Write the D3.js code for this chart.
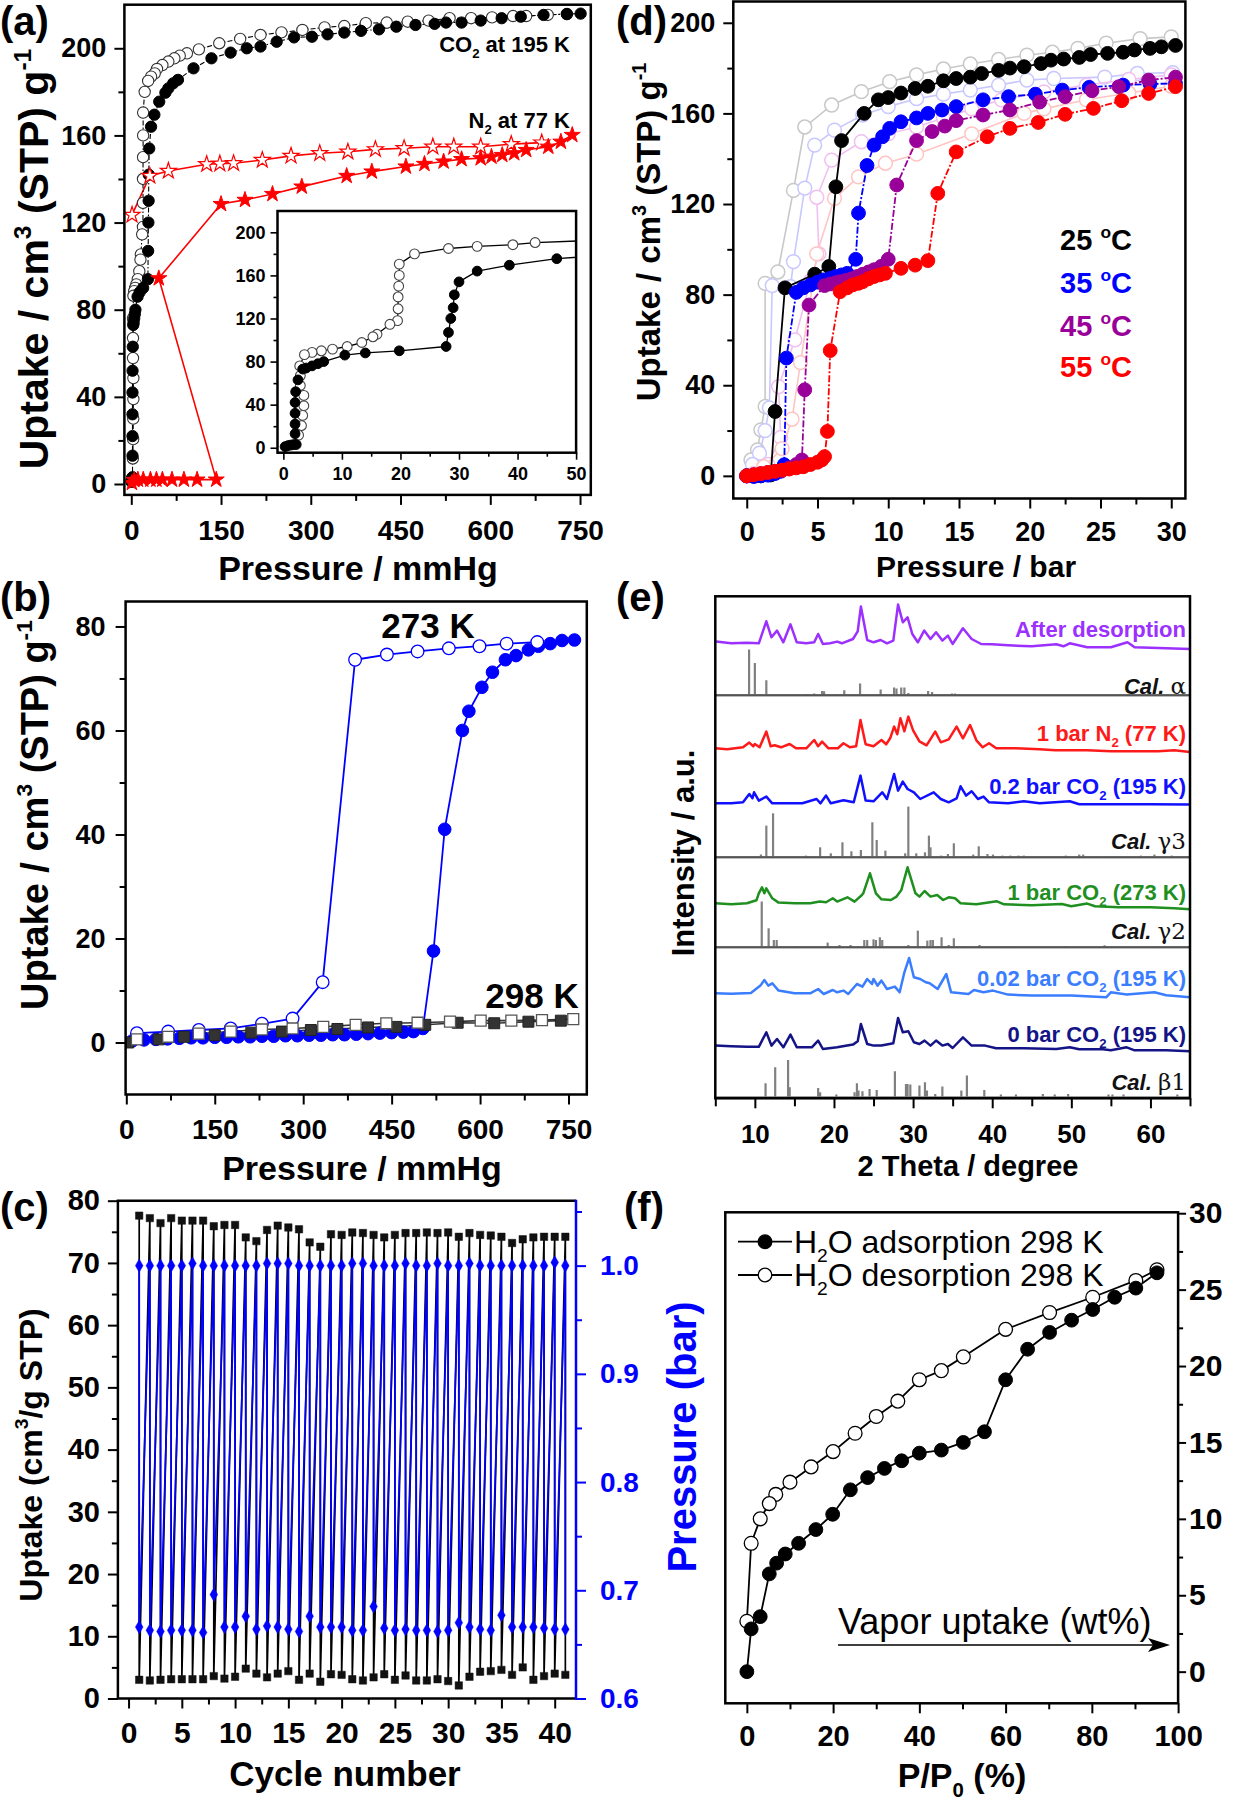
<!DOCTYPE html>
<html><head><meta charset="utf-8">
<script src="https://cdn.jsdelivr.net/npm/d3@7"></script>
<style>
body{margin:0;background:#fff;}
</style></head><body>
<svg id="fig" width="1238" height="1800" style="display:block;background:#fff"></svg>
<script>
// ---------------- DATA ----------------
// (a) CO2 at 195 K (same data in inset)
const aCO2Ads = [[0.3,1],[0.8,2],[1.3,2.5],[1.8,3],[2.2,3],[2.0,13],[2.0,22],[2.0,32],[2.0,42],[2.1,52],[2.5,63],[3.3,73],[3.9,74],[4.9,76],[5.9,78],[6.9,80],[10.5,86],[14,88],[19.8,90],[27.8,94],[28.2,107],[28.6,120],[29,130],[29.2,142],[30,154],[33.1,164],[38.6,169.5],[46.7,175.5],[57,179.6],[62,181.6],[70,183.9],[78,185.5],[104,190.8],[134,195.4],[166,198],[193,200],[216,200.8],[243,203],[272,205],[302,205.3],[328,206.4],[356,207.2],[384,208],[414,208.7],[443,209.9],[475,210.7],[507,211.2],[526,211.8],[552,211.8],[584,212.7],[619,213.8],[651,214.5],[689,215.3],[728,215.7],[751,215.9]];
const aCO2Des = [[728,215.7],[696,215.3],[660,214.8],[638,214.8],[603,214.2],[568,213.8],[532,213.8],[497,212.7],[462,212.2],[427,211.8],[392,211.5],[356,210.2],[323,209.6],[286,208.4],[251,207.3],[216,206.1],[182,204.3],[147,202.3],[113,199.5],[93,197.7],[81,196.6],[72,195.4],[62,193.9],[52,192.3],[43,190.5],[39.2,188.5],[33.1,187],[28.2,185],[22.4,180],[19.8,170.5],[19.8,160],[19.7,150],[19.6,140],[19.6,129],[19.5,118],[18.2,114.6],[16,105.4],[15.3,103],[13.4,97.7],[10.9,94],[8.4,91.6],[6.5,90],[4.9,88.5],[3.6,86.4],[2.8,76],[2.9,67],[2.9,57.8],[3.5,48.6],[3.5,39],[3.3,30],[3.1,20.6],[2.6,11.7]];
// (a) N2 at 77 K
const aN2Ads = [[1,0.5],[5,1.8],[11,2],[20,2],[32,2],[42,2],[52,2],[68,2],[88,2],[110,2],[142,2],[46,94.4],[150,128.5],[190,130.4],[236,133.1],[285,136.5],[360,141.4],[402,143.4],[459,145.7],[490,146.9],[522,148],[552,149.1],[584,149.5],[602,150.2],[620,151],[640,151.8],[660,153.3],[697,154.8],[718,157.1],[737,160.2]];
const aN2Des = [[686,156.7],[635,156],[584,154.8],[539,154.8],[504,154.8],[456,154.1],[408,153.6],[362,152.5],[315,151.8],[267,150.6],[219,148.7],[171,147.2],[148,147],[126,146.8],[62,143.7],[31,141.4],[1.3,123.5]];
const aXTicks = [0,150,300,450,600,750];
const aXMinor = [75,225,375,525,675];
const aYTicks = [0,40,80,120,160,200];
const aYMinor = [20,60,100,140,180];
const aInXTicks = [0,10,20,30,40,50];
const aInXMinor = [5,15,25,35,45];
const aInYTicks = [0,40,80,120,160,200];
const aInYMinor = [20,60,100,140,180];

// (b) CO2 at 273 K and 298 K
const b273Ads = [[10,0.3],[30,0.5],[50,0.6],[70,0.7],[90,0.8],[110,0.9],[130,0.9],[150,1.0],[170,1.0],[190,1.1],[210,1.1],[230,1.2],[250,1.2],[270,1.3],[290,1.3],[310,1.4],[330,1.4],[350,1.5],[370,1.5],[390,1.6],[410,1.7],[430,1.8],[450,1.9],[470,2.0],[487,2.1],[503,2.7],[521,17.6],[540,41],[570,60],[581,63.7],[603,68.3],[621,71.2],[643,73.6],[661,74.4],[682,75.5],[699,76.2],[719,76.7],[739,77.3],[760,77.4]];
const b273Des = [[697,77],[645,76.7],[599,76.2],[547,75.8],[494,75.2],[442,74.6],[388,73.6],[333,11.6],[282,4.6],[230,3.6],[177,2.7],[123,2.4],[71,2.1],[18,1.8]];
const b298Ads = [[3,0],[55,0.6],[98,1.1],[150,1.4],[212,1.9],[264,2.1],[313,2.4],[358,2.6],[410,2.9],[458,3.0],[507,3.4],[562,3.8],[624,3.7],[682,4.0],[737,4.2]];
const b298Des = [[758,4.5],[705,4.3],[653,4.2],[601,4.2],[549,4.0],[494,3.8],[441,3.7],[389,3.4],[334,3.0],[282,2.7],[230,2.5],[177,2.1],[123,1.7],[71,1.1],[18,0.6]];
const bXTicks = [0,150,300,450,600,750];
const bXMinor = [75,225,375,525,675];
const bYTicks = [0,20,40,60,80];
const bYMinor = [10,30,50,70];

// (c) cycling
const cCycles = [1,2,3,4,5,6,7,8,9,10,11,12,13,14,15,16,17,18,19,20,21,22,23,24,25,26,27,28,29,30,31,32,33,34,35,36,37,38,39,40,41];
const cUptakeHigh = [77.6,77.2,76.4,77.2,76.8,76.8,76.8,75.9,76.1,76.1,74.1,73.5,75.3,76.0,75.7,75.4,73.3,72.6,74.6,74.5,74.9,74.8,74.5,74.1,74.5,74.8,74.8,74.9,74.8,74.9,74.2,74.8,74.5,74.4,74.2,73.2,73.8,74.1,74.2,74.2,74.2];
const cUptakeLow = [3.0,2.9,3.0,3.1,3.1,3.1,3.1,3.6,3.2,3.5,4.8,4.0,3.4,4.0,4.4,3.0,4.0,2.7,3.9,3.8,3.1,2.9,3.4,3.9,3.0,3.7,2.9,2.9,3.1,2.8,2.1,3.5,4.3,4.4,4.6,3.8,5.0,3.0,3.6,4.0,3.8];
const cPressHigh = [1.0,1.0,1.0,1.0,1.0,1.002,1.0,1.0,1.0,1.0,1.0,1.0,1.002,1.002,1.002,1.0,1.0,1.0,1.0,1.0,1.002,1.002,1.0,1.0,1.0,1.002,1.0,1.0,1.002,1.0,1.0,1.002,1.0,1.0,1.0,1.0,1.0,1.0,1.0,1.003,1.0];
const cPressLow = [0.666,0.663,0.662,0.663,0.663,0.663,0.661,0.696,0.666,0.666,0.676,0.664,0.667,0.666,0.664,0.662,0.676,0.666,0.666,0.666,0.663,0.663,0.685,0.665,0.663,0.664,0.663,0.663,0.662,0.663,0.670,0.666,0.664,0.663,0.677,0.666,0.666,0.666,0.665,0.664,0.664];
const cXTicks = [0,5,10,15,20,25,30,35,40];
const cXMinor = [2.5,7.5,12.5,17.5,22.5,27.5,32.5,37.5];
const cYTicks = [0,10,20,30,40,50,60,70,80];
const cYMinor = [5,15,25,35,45,55,65,75];
const cPTicks = [0.6,0.7,0.8,0.9,1.0];
const cPMinor = [0.65,0.75,0.85,0.95,1.05];

// (d) high-pressure CO2 isotherms (ads filled / des open)
const d25Ads = [[0,0],[0.5,0],[1.0,0],[1.7,0.4],[2.0,28.4],[2.7,83],[4.8,89],[5.8,92.4],[6.3,127.6],[6.7,148],[8.3,160],[9.3,166],[10.0,167],[10.9,169],[11.9,171],[12.8,172],[13.9,174.4],[14.8,175.4],[15.8,176],[16.6,177.6],[17.8,179],[18.6,180],[19.6,180.6],[20.8,182],[21.5,183.5],[22.4,184],[23.5,184.7],[24.3,186],[25.5,186.5],[26.6,187],[27.4,188],[28.5,188.7],[29.3,189.4],[30.3,190]];
const d25Des = [[30,193.8],[27.8,193],[25.4,191],[23.4,188.7],[21.6,187],[19.8,185.7],[17.8,183.8],[15.8,181.8],[13.9,179.6],[12.0,177],[10.1,174],[8.1,169.6],[6.0,163.7],[4.1,154],[3.3,126],[2.2,90],[1.3,85],[1.3,30.6],[1.0,20.3],[0.76,11.5],[0.3,7],[0,0]];
const d35Ads = [[0,0],[0.5,-0.3],[1.0,0],[1.5,0.3],[2.0,1],[2.4,2],[2.65,4.9],[2.8,52],[3.5,81],[4.0,83],[4.5,84.3],[5.0,85.5],[5.4,86.5],[5.9,87.3],[6.3,88],[6.7,88.7],[7.1,89.4],[7.7,95.6],[7.9,116],[8.5,137],[9.0,146],[9.6,149.7],[10.1,153.4],[10.9,156.3],[12.0,158],[12.8,160],[13.8,161.5],[14.8,163],[16.7,166],[18.5,167.4],[20.4,168.5],[22.3,170.3],[24.2,171.5],[26.6,172.5],[28.5,173],[30.3,173.2]];
const d35Des = [[30.1,178],[27.6,177.6],[25.3,176],[21.7,175.4],[19.8,174.7],[17.8,172.5],[15.8,170.3],[13.9,168.5],[12.0,166.5],[10.0,163],[8.2,159.3],[6.2,152.6],[4.8,146],[4.1,127],[3.3,94.6],[3.1,83.5],[1.8,84],[1.6,30],[1.3,20],[0.9,10],[0.4,5],[0,0]];
const d45Ads = [[0,0],[0.5,0.5],[1,1],[1.5,1.5],[2,2],[2.5,2.5],[3,3.5],[3.5,5],[3.9,7],[4.1,38],[4.4,75.4],[5.5,84],[5.9,84.7],[6.3,85.3],[6.6,85.7],[7.0,86.3],[7.4,87],[7.8,88],[8.2,89],[8.6,90],[9.0,91],[9.5,92.5],[10.0,95.6],[10.6,128.4],[12.0,148],[13.1,152],[14.0,154.4],[14.8,156.8],[16.7,159.3],[18.6,161.5],[20.7,165],[22.5,167.4],[24.4,170],[26.3,171.8],[28.4,174.7],[30.3,176]];
const d45Des = [[30,177],[27,175],[24,172.5],[21,169.5],[18,166],[15.9,162],[13.9,158],[12.0,154],[10,151],[8.1,147.5],[6.0,139.4],[4.95,123],[5.1,98],[4.5,86],[3.4,60],[2.25,39.4],[2.4,17],[1.5,5],[0.5,1],[0,0]];
const d55Ads = [[0,0],[0.5,0.5],[1,1],[1.5,1.5],[2,2],[2.5,2.5],[3,3],[3.5,3.5],[4,4],[4.5,5],[5,6],[5.3,7],[5.5,8.5],[5.7,19.6],[5.9,55.3],[6.6,81.3],[7.1,83],[7.5,84.3],[7.9,85],[8.2,85.7],[8.6,87],[9.0,88],[9.4,88.7],[9.8,89.4],[10.9,91.6],[11.9,93],[12.8,95],[13.5,124.7],[14.8,143],[17.0,149.7],[18.6,153.4],[20.6,156],[22.5,159.6],[24.5,162.2],[26.5,165.6],[28.4,168.8],[30.3,171.8]];
const d55Des = [[30,172],[27,169],[24,166],[21,162],[19.6,160],[15.9,151],[12.0,142],[9.8,138],[7.9,132],[6.2,122.5],[4.95,98],[4.7,86],[3.8,50],[3.2,25],[2.5,12],[1.2,4],[0,0]];
const dXTicks = [0,5,10,15,20,25,30];
const dXMinor = [2.5,7.5,12.5,17.5,22.5,27.5];
const dYTicks = [0,40,80,120,160,200];
const dYMinor = [20,60,100,140,180];
const dLegend = ["25","35","45","55"];

// (e) PXRD: experimental traces [2theta, intensity above own baseline]
const eAfterDes = [[5.1,1.7],[7,0],[9,0.5],[10.5,0],[11.45,22],[12.1,6],[12.8,12.7],[13.6,1],[14.5,19],[15.3,1],[16.5,0],[17.5,1],[18.0,9.3],[18.6,-0.7],[19.5,0],[20.4,1.7],[21,0],[22.4,4.3],[23.0,12],[23.4,36.7],[24.2,3.3],[25.0,1],[25.9,3.3],[26.7,0],[27.5,2.7],[28.1,38.7],[28.7,21],[29.3,26],[29.9,9.3],[30.6,1],[31.4,12.7],[32.2,4.3],[32.9,11],[33.7,2.7],[34.4,7.7],[35.0,-0.7],[36.3,15],[37.4,4.3],[38.6,-0.7],[40,-1],[42,-2],[45,-3],[48.1,-1],[49,-3],[49.8,0],[52,-4],[55,-4],[57.1,1],[58,-4],[62,-5],[65,-5.7]];
const eN2_77 = [[5,0],[6.5,-1],[8.5,1],[9.3,5.7],[9.8,2],[10.0,4.3],[10.6,1],[11.45,16.7],[12.0,2],[12.5,3],[13.3,1],[14.4,4.3],[15.2,0],[16.5,0],[17.5,8.3],[18.0,2],[18.5,6.7],[19.3,0],[20.5,0],[21.2,5],[22,1],[22.8,2],[23.35,28.3],[24.0,4],[25.0,2],[26.0,8.3],[26.6,4],[27.1,10],[27.6,21.7],[28.0,14],[28.4,30],[28.9,17],[29.4,31.7],[30.0,18],[30.8,7],[31.7,3],[32.8,16.7],[33.5,6],[34.5,9],[35.5,21.7],[36.3,10],[37.2,23.3],[38.0,8],[38.8,1],[39.6,5],[40.5,0],[43,0],[46,-1],[48,-2],[52,-2],[55,-3],[58,-3],[61,-3],[63,-2],[65,-3.7]];
const eCO2_02 = [[5,0],[7,0],[8.5,1],[9.3,9.3],[9.7,5],[9.9,11],[10.5,2.7],[11.45,6.7],[12.2,0],[14,0],[16,0],[17.8,4.3],[18.3,0],[19.0,7.7],[19.6,0],[21.2,3],[22.5,1],[23.35,27.7],[24.0,2.7],[25.0,2],[26.1,11],[26.7,4.3],[27.6,29.3],[28.1,12.7],[28.7,21.7],[29.3,14.3],[30.1,11],[30.9,4.3],[32.6,11],[33.5,4.3],[34.5,1],[35.5,5],[36.0,17],[36.7,7.7],[37.4,12],[38.2,4.3],[38.9,6.7],[39.6,1],[42,0],[44,2],[46,0],[49.8,2],[51,-1],[55,-1],[60,-1],[65,-1.3]];
const eCO2_273 = [[5,0],[7,-1],[9,0],[10.2,3],[10.5,10],[10.9,16],[11.2,10],[11.45,15],[12.2,5],[13,0.7],[15,0],[17,0],[18.2,1.7],[19.0,1],[19.85,5],[20.4,1.7],[21.7,6],[22.6,1.7],[23.5,8],[23.7,10],[24.55,30],[25.3,10],[26,4],[27.2,3.3],[27.9,6.7],[28.5,13],[29.3,36],[30.3,10],[30.8,6.7],[31.45,12.3],[32.2,6.7],[33.05,8.3],[33.8,3.3],[34.5,6],[35.3,5],[36,0],[38,-1],[40.6,2],[41.5,-1],[45,-2],[48.8,-0.7],[50,-3],[52,-0.3],[53,-3],[56,-4],[60,-4],[63,-5],[65,-6]];
const eCO2_002 = [[5,0],[7,-0.5],[9.5,0.3],[10.7,7.7],[11.2,13.3],[11.7,7.7],[12.2,10],[13,2.7],[15,0],[17,0],[18.0,4.3],[18.7,-0.7],[19.85,3.3],[20.4,1],[21.2,2.7],[21.8,-0.7],[22.9,9.3],[23.6,6.7],[24.2,14.3],[24.8,9.3],[25.0,14.3],[25.5,7.7],[26.0,12.7],[26.7,4.3],[27.7,6.7],[28.3,1],[28.9,21],[29.5,35.3],[30.1,16],[30.9,14.3],[31.6,11],[32.1,10],[33.1,4.3],[34.2,19.3],[34.8,1],[37,-0.7],[37.7,3.3],[38.9,1],[40.1,2.7],[42,-1.3],[45,-2.3],[50,-2.3],[54.4,-4],[55,1],[57,-1.3],[60.5,1],[62,-2],[65,-4]];
const eCO2_0 = [[5,1.7],[7,1],[9,0.5],[10.5,0.5],[11.45,15],[12.1,1.7],[12.8,8.3],[13.6,0],[14.5,12.7],[15.3,0],[17.2,0],[18.0,6.7],[18.6,-1.7],[20.4,0],[22.4,2.7],[23.0,6],[23.4,23.3],[24.2,3.3],[25.0,1.7],[26.0,1.7],[27.5,4],[28.1,29.3],[28.7,15],[29.4,16],[30.1,5],[30.8,3.3],[31.45,6.7],[32.2,1.7],[32.9,6.7],[33.7,1.7],[34.4,3.3],[35.0,-0.7],[36.3,10],[37.4,1.7],[39.1,1.7],[40.5,-1],[44,-1],[48.1,-1.7],[49.8,0],[51,-2],[54,-2],[55,-3],[57,0],[58,-3],[62,-3],[65,-4]];
// (e) calculated stick patterns [2theta, height]
const eCalAlpha = [[9.27,45.7],[10.0,32.3],[11.45,15],[16.6,1],[17.5,1.7],[18.5,4.3],[18.75,4],[20.2,1],[21.3,5],[23.3,11.7],[25.9,5.7],[27.6,7.7],[27.9,6.7],[28.5,7.7],[28.9,7.7],[29.4,2.3],[30.1,1],[30.6,1],[31.9,4.3],[32.4,3.3],[34.9,1.7],[35.3,1.7],[36.0,1],[37.4,0.7],[39.4,0.7],[44.5,0.7],[49.6,0.7],[56.6,0.7]];
const eCalG3 = [[10.77,2.7],[11.45,31.7],[12.3,44],[16.45,1.7],[18.25,10],[19.6,4],[21.07,15],[22.2,6],[23.4,7.3],[24.85,35],[25.4,17.3],[26.5,6.7],[29.0,4],[29.4,50.7],[30.4,4],[31.5,5],[32.0,21.7],[32.2,10],[33.55,1.7],[34.4,3.3],[35.15,14],[37.6,2.7],[38.3,11],[39.4,3.3],[40.1,2.7],[41.3,1.7],[42.3,1.7],[43.3,1.7],[44.0,1.7],[49.3,1.7],[51.0,2.7],[51.5,2.7],[53.4,1],[58.8,1.7],[60.5,2.7],[62.7,1.7]];
const eCalG2 = [[10.87,45.7],[11.74,19],[12.4,7.3],[12.76,7.3],[15.1,1.3],[19.2,4.7],[20.7,2.3],[22.1,2.3],[23.83,7.3],[24.2,7.3],[25.0,8],[25.3,7.3],[25.8,10],[26.1,7.3],[29.4,2.3],[30.6,16.7],[31.8,6.7],[32.2,7.3],[32.5,7.3],[33.6,10],[34.5,2.3],[35.15,9],[36.5,1.3],[38.4,2.3],[42.0,1.3],[49.3,1.3],[54.2,2],[60.9,1.3]];
const eCalB1 = [[11.35,14],[12.57,30],[14.2,37.3],[14.4,10],[18.0,9.3],[18.25,5],[20.3,2.7],[22.6,5],[22.9,14],[23.1,6.7],[23.6,6],[24.5,8.3],[25.4,7.3],[27.7,26],[29.1,13.3],[29.3,13.3],[29.65,12.7],[30.8,11.7],[31.5,15],[31.75,6.7],[32.8,3.3],[33.7,10.7],[36.1,6.7],[36.8,21.7],[39.0,7.3],[41.1,2.7],[43.0,2.7],[46.4,3.3],[47.9,2.7],[49.6,3.3],[54.7,2.7],[55.2,2.7],[56.6,2.7],[63.4,2.7]];
// stacking offsets (a.u.) of each pattern, top to bottom
const eOffsets = [455,403,350,295,241,195,151,105,51,1];
const eXTicks = [10,20,30,40,50,60];
const eXMinor = [5,15,25,35,45,55,65];

// (f) water vapour isotherm at 298 K
const fAds = [[0,0],[1,2.8],[3.1,3.6],[5.2,6.4],[6.9,7.1],[8.9,7.7],[12,8.4],[16,9.3],[19.9,10.3],[24,11.9],[28,12.7],[31.9,13.3],[35.9,13.8],[40,14.3],[45.1,14.5],[50.2,15.0],[55.1,15.7],[60,19.1],[65.1,21.1],[70.2,22.2],[75.3,23.0],[80.2,23.7],[85.3,24.5],[90.2,25.1],[95.1,26.1]];
const fDes = [[95.1,26.3],[90.2,25.6],[80.2,24.5],[70.2,23.5],[60,22.4],[50.2,20.6],[45.1,19.7],[40,19.1],[35,17.7],[30,16.7],[25.1,15.6],[20,14.4],[14.9,13.4],[10,12.4],[6.7,11.6],[5.2,11.0],[3.1,10.0],[1.0,8.4],[0,3.3]];
const fXTicks = [0,20,40,60,80,100];
const fXMinor = [10,30,50,70,90];
const fYTicks = [0,5,10,15,20,25,30];
const fYMinor = [2.5,7.5,12.5,17.5,22.5,27.5];

// ---------------- DRAWING ----------------
const FONT = '"Liberation Sans", Arial, Helvetica, sans-serif';
const svg = d3.select('#fig');
const defs = svg.append('defs');
let clipN = 0;
function clipRect(x0,y0,x1,y1){
  const id='clip'+(clipN++);
  defs.append('clipPath').attr('id',id).append('rect').attr('x',x0).attr('y',y0).attr('width',x1-x0).attr('height',y1-y0);
  return 'url(#'+id+')';
}
function frame(x0,y0,x1,y1,fill){
  svg.append('rect').attr('x',x0).attr('y',y0).attr('width',x1-x0).attr('height',y1-y0)
    .attr('fill',fill||'none').attr('stroke','#000').attr('stroke-width',2.5);
}
function axis(scale, side, pos, majors, minors, opts){
  const o = Object.assign({size:10,minorSize:6,pad:10,font:26,color:'#000',fmt:d=>d,weight:'bold',sw:2},opts||{});
  const mk = side==='bottom'?d3.axisBottom:side==='left'?d3.axisLeft:side==='right'?d3.axisRight:d3.axisTop;
  const tr = (side==='bottom'||side==='top')?`translate(0,${pos})`:`translate(${pos},0)`;
  if(minors && minors.length){
    const gm = svg.append('g').attr('transform',tr).call(mk(scale).tickValues(minors).tickSize(o.minorSize).tickFormat(''));
    gm.select('.domain').remove();
    gm.selectAll('line').attr('stroke',o.color).attr('stroke-width',o.sw);
  }
  const g = svg.append('g').attr('transform',tr).call(mk(scale).tickValues(majors).tickSize(o.size).tickPadding(o.pad).tickFormat(o.fmt));
  g.select('.domain').remove();
  g.selectAll('line').attr('stroke',o.color).attr('stroke-width',o.sw);
  g.selectAll('text').attr('fill',o.color).attr('font-size',o.font).attr('font-weight',o.weight).attr('font-family',FONT);
  return g;
}
function rich(x,y,parts,o){
  o=o||{};
  const fs=o.size||25;
  const t=svg.append('text').attr('font-family',FONT).attr('font-size',fs)
    .attr('font-weight',o.weight||'bold').attr('fill',o.color||'#000').attr('text-anchor',o.anchor||'start');
  if(o.rotate){ t.attr('transform',`translate(${x+0.36*fs},${y}) rotate(-90)`); }
  else { t.attr('x',x).attr('y',y); }
  let shift=0;
  parts.forEach(p=>{
    const s=Array.isArray(p)?p[0]:p, type=Array.isArray(p)?p[1]:'';
    const target = type==='sub'? fs*0.28 : type==='sup'? -fs*0.42 : 0;
    const ts=t.append('tspan').text(s);
    if(target-shift!==0) ts.attr('dy',target-shift);
    if(type==='sub'||type==='sup') ts.attr('font-size',fs*0.6);
    if(type==='it') ts.attr('font-style','italic');
    if(type==='nw') ts.attr('font-weight','normal');
    if(type==='greek') ts.attr('font-weight','normal').attr('font-family','"DejaVu Serif","Liberation Serif",serif').attr('font-size',fs*1.05);
    shift=target;
  });
  return t;
}
function line(g,data,xs,ys,o){
  g.append('path').datum(data)
    .attr('d',d3.line().x(d=>xs(d[0])).y(d=>ys(d[1])))
    .attr('fill','none').attr('stroke',o.color).attr('stroke-width',o.sw||1.5)
    .attr('stroke-dasharray',o.dash||null).attr('stroke-linejoin','round');
}
function pts(g,data,xs,ys,o){
  const sym={circle:d3.symbolCircle,star:d3.symbolStar,square:d3.symbolSquare,diamond:d3.symbolDiamond}[o.shape||'circle'];
  g.selectAll(null).data(data).enter().append('path')
    .attr('d',d3.symbol().type(sym).size(o.size||90))
    .attr('transform',d=>`translate(${xs(d[0])},${ys(d[1])})`)
    .attr('fill',o.fill).attr('stroke',o.stroke).attr('stroke-width',o.sw||1.3);
}
function label(txt,x,y){
  svg.append('text').attr('x',x).attr('y',y).attr('font-family',FONT).attr('font-size',40)
    .attr('font-weight','bold').text(txt);
}

// ===== Panel (a) =====
{
  const X0=124.4,X1=590.8,Y0=4.7,Y1=494.9;
  const x=d3.scaleLinear().domain([-11.5,768]).range([X0,X1]);
  const y=d3.scaleLinear().domain([-5,220]).range([Y1,Y0]);
  const g=svg.append('g').attr('clip-path',clipRect(X0,Y0,X1,Y1));
  line(g,aN2Des,x,y,{color:'#ff0000',sw:1.6});
  line(g,aN2Ads,x,y,{color:'#ff0000',sw:1.6});
  line(g,aCO2Des,x,y,{color:'#000',sw:1.1,dash:'5,2,1.5,2'});
  line(g,aCO2Ads,x,y,{color:'#000',sw:1.1,dash:'5,2,1.5,2'});
  pts(g,aCO2Des,x,y,{shape:'circle',size:100,fill:'#fff',stroke:'#333',sw:1.1});
  pts(g,aCO2Ads,x,y,{shape:'circle',size:100,fill:'#000',stroke:'#000',sw:1});
  pts(g,aN2Des,x,y,{shape:'star',size:80,fill:'#fff',stroke:'#ff0000',sw:1.2});
  pts(g,aN2Ads,x,y,{shape:'star',size:80,fill:'#ff0000',stroke:'#ff0000',sw:1});
  axis(x,'bottom',Y1,aXTicks,aXMinor,{pad:15,font:28});
  axis(y,'left',X0,aYTicks,aYMinor,{pad:8,font:27});
  rich(570,52,['CO',['2','sub'],[' at 195 K','']],{size:22,anchor:'end'});
  rich(570,128,['N',['2','sub'],[' at 77 K','']],{size:22,anchor:'end'});
  // inset
  const IX0=277.5,IX1=576.1,IY0=211,IY1=452.7;
  frame(IX0,IY0,IX1,IY1,'#fff');
  const xi=d3.scaleLinear().domain([-1,50]).range([IX0,IX1]);
  const yi=d3.scaleLinear().domain([-4.6,219.8]).range([IY1,IY0]);
  const gi=svg.append('g').attr('clip-path',clipRect(IX0,IY0,IX1,IY1));
  line(gi,aCO2Des,xi,yi,{color:'#000',sw:1.3});
  line(gi,aCO2Ads,xi,yi,{color:'#000',sw:1.3});
  pts(gi,aCO2Des,xi,yi,{shape:'circle',size:75,fill:'#fff',stroke:'#444',sw:1.1});
  pts(gi,aCO2Ads,xi,yi,{shape:'circle',size:75,fill:'#000',stroke:'#000',sw:1});
  axis(xi,'bottom',IY1,aInXTicks,aInXMinor,{size:7,minorSize:4,pad:8,font:18,sw:1.6});
  axis(yi,'left',IX0,aInYTicks,aInYMinor,{size:7,minorSize:4,pad:5,font:18,sw:1.6});
  frame(X0,Y0,X1,Y1);
  rich(358,580,['Pressure / mmHg'],{size:34,anchor:'middle'});
  rich(33,259,['Uptake / cm',['3','sup'],[' (STP) g',''],['-1','sup']],{size:41,anchor:'middle',rotate:true});
  label('(a)',0,35);
}

// ===== Panel (b) =====
{
  const X0=125.6,X1=586.8,Y0=601.5,Y1=1094.5;
  const x=d3.scaleLinear().domain([-1.2,781]).range([X0,X1]);
  const y=d3.scaleLinear().domain([-10,84.8]).range([Y1,Y0]);
  const g=svg.append('g').attr('clip-path',clipRect(X0,Y0,X1,Y1));
  line(g,b298Ads,x,y,{color:'#333',sw:1.6});
  line(g,b298Des,x,y,{color:'#333',sw:1.6});
  line(g,b273Des,x,y,{color:'#0000ff',sw:1.8});
  line(g,b273Ads,x,y,{color:'#0000ff',sw:1.8});
  pts(g,b273Ads,x,y,{shape:'circle',size:125,fill:'#0000ff',stroke:'#0000ff',sw:1});
  pts(g,b273Des,x,y,{shape:'circle',size:125,fill:'#fff',stroke:'#0000ff',sw:1.3});
  pts(g,b298Ads,x,y,{shape:'square',size:120,fill:'#333',stroke:'#222',sw:1});
  pts(g,b298Des,x,y,{shape:'square',size:120,fill:'#fff',stroke:'#555',sw:1.3});
  frame(X0,Y0,X1,Y1);
  axis(x,'bottom',Y1,bXTicks,bXMinor,{pad:15,font:28});
  axis(y,'left',X0,bYTicks,bYMinor,{pad:10,font:27});
  rich(428,638,['273 K'],{size:35,anchor:'middle'});
  rich(532,1008,['298 K'],{size:35,anchor:'middle'});
  rich(362,1180,['Pressure / mmHg'],{size:34,anchor:'middle'});
  rich(34,815,['Uptake / cm',['3','sup'],[' (STP) g',''],['-1','sup']],{size:38,anchor:'middle',rotate:true});
  label('(b)',0,611);
}

// ===== Panel (c) =====
{
  const X0=117.9,X1=576,Y0=1200.7,Y1=1698.5;
  const x=d3.scaleLinear().domain([-1,42]).range([X0,X1]);
  const yL=d3.scaleLinear().domain([0,80]).range([Y1,Y0]);
  const yR=d3.scaleLinear().domain([0.6,1.06]).range([Y1,Y0]);
  const upSeq=[], prSeq=[], upHi=[], upLo=[], prHi=[], prLo=[];
  cCycles.forEach((c,i)=>{
    upSeq.push([c,cUptakeHigh[i]]); upSeq.push([c,cUptakeLow[i]]);
    prSeq.push([c,cPressHigh[i]]); prSeq.push([c,cPressLow[i]]);
    upHi.push([c,cUptakeHigh[i]]); upLo.push([c,cUptakeLow[i]]);
    prHi.push([c,cPressHigh[i]]); prLo.push([c,cPressLow[i]]);
  });
  const g=svg.append('g').attr('clip-path',clipRect(X0,Y0,X1,Y1));
  line(g,upSeq,x,yL,{color:'#000',sw:1.7});
  line(g,prSeq,x,yR,{color:'#0000ff',sw:1.7});
  pts(g,upHi,x,yL,{shape:'square',size:55,fill:'#111',stroke:'#111',sw:0.5});
  pts(g,upLo,x,yL,{shape:'square',size:55,fill:'#111',stroke:'#111',sw:0.5});
  pts(g,prHi,x,yR,{shape:'diamond',size:50,fill:'#0000ff',stroke:'#0000ff',sw:0.5});
  pts(g,prLo,x,yR,{shape:'diamond',size:50,fill:'#0000ff',stroke:'#0000ff',sw:0.5});
  svg.append('path').attr('d',`M${X1},${Y0}H${X0}V${Y1}H${X1}`).attr('fill','none').attr('stroke','#000').attr('stroke-width',2.5);
  svg.append('line').attr('x1',X1).attr('x2',X1).attr('y1',Y0-1).attr('y2',Y1+1).attr('stroke','#0000ff').attr('stroke-width',2.5);
  axis(x,'bottom',Y1,cXTicks,cXMinor,{pad:13,font:30});
  axis(yL,'left',X0,cYTicks,cYMinor,{pad:8,font:29});
  axis(yR,'right',X1,cPTicks,cPMinor,{pad:14,font:28,color:'#0000ff',fmt:d3.format('.1f')});
  rich(345,1786,['Cycle number'],{size:35,anchor:'middle'});
  rich(30,1455,['Uptake (cm',['3','sup'],['/g STP)','']],{size:32,anchor:'middle',rotate:true});
  rich(682,1437,['Pressure (bar)'],{size:40,anchor:'middle',rotate:true,color:'#0000ff'});
  label('(c)',0,1221);
}

// ===== Panel (d) =====
{
  const X0=733.3,X1=1185.4,Y0=1.5,Y1=498.5;
  const x=d3.scaleLinear().domain([-0.95,31]).range([X0,X1]);
  const y=d3.scaleLinear().domain([-10,209.4]).range([Y1,Y0]);
  const g=svg.append('g').attr('clip-path',clipRect(X0,Y0,X1,Y1));
  const sets=[
    {ads:d25Ads,des:d25Des,c:'#000000',lc:'#c8c8c8',dash:null},
    {ads:d35Ads,des:d35Des,c:'#0000ff',lc:'#c8c8ff',dash:'7,2,2,2'},
    {ads:d45Ads,des:d45Des,c:'#990099',lc:'#f0c0f0',dash:'7,2,2,2'},
    {ads:d55Ads,des:d55Des,c:'#ff0000',lc:'#ffc4c4',dash:'7,2,2,2'}
  ];
  sets.forEach(s=>{
    line(g,s.des,x,y,{color:s.lc,sw:1.6});
    pts(g,s.des,x,y,{shape:'circle',size:150,fill:'#fff',stroke:s.lc,sw:1.5});
  });
  sets.forEach(s=>{
    line(g,s.ads,x,y,{color:s.c,sw:1.8,dash:s.dash});
  });
  sets.forEach(s=>{
    pts(g,s.ads,x,y,{shape:'circle',size:150,fill:s.c,stroke:s.c,sw:1});
  });
  frame(X0,Y0,X1,Y1);
  axis(x,'bottom',Y1,dXTicks,dXMinor,{pad:13,font:27});
  axis(y,'left',X0,dYTicks,dYMinor,{pad:8,font:27});
  const lb=[250,293,336,377];
  dLegend.forEach((t,i)=>{
    rich(1132,lb[i],[t+' ',['o','sup'],['C','']],{size:29,anchor:'end',color:sets[i].c});
  });
  rich(976,577,['Pressure / bar'],{size:30,anchor:'middle'});
  rich(648,232,['Uptake / cm',['3','sup'],[' (STP) g',''],['-1','sup']],{size:33,anchor:'middle',rotate:true});
  label('(d)',616,35);
}

// ===== Panel (e) =====
{
  const X0=715.3,X1=1190,Y0=596.3,Y1=1098.3;
  const x=d3.scaleLinear().domain([5,65]).range([X0,X1]);
  const y=d3.scaleLinear().domain([0,502]).range([Y1,Y0]);
  const g=svg.append('g').attr('clip-path',clipRect(X0,Y0,X1,Y1));
  const traces=[
    {d:eAfterDes,c:'#9b30ff',type:'exp',lab:[['After desorption','']]},
    {d:eCalAlpha,c:'#808080',type:'cal',lab:[['Cal. ','it'],['α','greek']]},
    {d:eN2_77,c:'#ff1a1a',type:'exp',lab:[['1 bar N',''],['2','sub'],[' (77 K)','']]},
    {d:eCO2_02,c:'#1010ff',type:'exp',lab:[['0.2 bar CO',''],['2','sub'],[' (195 K)','']]},
    {d:eCalG3,c:'#808080',type:'cal',lab:[['Cal. ','it'],['γ3','greek']]},
    {d:eCO2_273,c:'#1f8f1f',type:'exp',lab:[['1 bar CO',''],['2','sub'],[' (273 K)','']]},
    {d:eCalG2,c:'#808080',type:'cal',lab:[['Cal. ','it'],['γ2','greek']]},
    {d:eCO2_002,c:'#3a7dff',type:'exp',lab:[['0.02 bar CO',''],['2','sub'],[' (195 K)','']]},
    {d:eCO2_0,c:'#141487',type:'exp',lab:[['0 bar CO',''],['2','sub'],[' (195 K)','']]},
    {d:eCalB1,c:'#808080',type:'cal',lab:[['Cal. ','it'],['β1','greek']]}
  ];
  const labY=[637,694,741,794,849,900,939,986,1042,1090];
  traces.forEach((t,i)=>{
    const off=eOffsets[i];
    if(t.type==='exp'){
      g.append('path').datum(t.d)
        .attr('d',d3.line().x(d=>x(d[0])).y(d=>y(off+d[1])))
        .attr('fill','none').attr('stroke',t.c).attr('stroke-width',2.5).attr('stroke-linejoin','round');
    } else {
      g.append('line').attr('x1',X0).attr('x2',X1).attr('y1',y(off)).attr('y2',y(off)).attr('stroke',t.c).attr('stroke-width',2);
      g.selectAll(null).data(t.d).enter().append('line')
        .attr('x1',d=>x(d[0])).attr('x2',d=>x(d[0]))
        .attr('y1',y(off)).attr('y2',d=>y(off+d[1]))
        .attr('stroke',t.c).attr('stroke-width',2.2);
    }
    const col = t.type==='cal' ? '#111' : t.c;
    rich(1186,labY[i],t.lab,{size:22,anchor:'end',color:col});
  });
  [403,241,151].forEach(v=>{
    svg.append('line').attr('x1',X0).attr('x2',X1).attr('y1',y(v)).attr('y2',y(v)).attr('stroke','#555').attr('stroke-width',2);
  });
  frame(X0,Y0,X1,Y1);
  axis(x,'bottom',Y1,eXTicks,eXMinor,{pad:16,minorSize:8});
  rich(968,1176,['2 Theta / degree'],{size:29,anchor:'middle'});
  rich(683,853,['Intensity / a.u.'],{size:31,anchor:'middle',rotate:true});
  label('(e)',616,611);
}

// ===== Panel (f) =====
{
  const X0=725.3,X1=1178.1,Y0=1212.3,Y1=1703.3;
  const x=d3.scaleLinear().domain([-5,100]).range([X0,X1]);
  const y=d3.scaleLinear().domain([-2.07,30.06]).range([Y1,Y0]);
  const g=svg.append('g').attr('clip-path',clipRect(X0,Y0,X1,Y1));
  line(g,fDes,x,y,{color:'#000',sw:1.8});
  line(g,fAds,x,y,{color:'#000',sw:1.8});
  pts(g,fDes,x,y,{shape:'circle',size:150,fill:'#fff',stroke:'#000',sw:1.3});
  pts(g,fAds,x,y,{shape:'circle',size:150,fill:'#000',stroke:'#000',sw:1});
  frame(X0,Y0,X1,Y1);
  axis(x,'bottom',Y1,fXTicks,fXMinor,{pad:12,font:29});
  axis(y,'right',X1,fYTicks,fYMinor,{size:8,minorSize:5,pad:3,font:30});
  const legY=[1241.7,1275];
  [[fAds,'#000'],[fDes,'#fff']].forEach((s,i)=>{
    svg.append('line').attr('x1',738).attr('x2',792).attr('y1',legY[i]).attr('y2',legY[i]).attr('stroke','#000').attr('stroke-width',1.8);
    svg.append('circle').attr('cx',765).attr('cy',legY[i]).attr('r',6.8).attr('fill',s[1]).attr('stroke','#000').attr('stroke-width',1.3);
  });
  rich(794,legY[0]+11,['H',['2','sub'],['O adsorption 298 K','']],{size:32,weight:'normal'});
  rich(794,legY[1]+11,['H',['2','sub'],['O desorption 298 K','']],{size:32,weight:'normal'});
  rich(838,1634,['Vapor uptake (wt%)'],{size:36,weight:'normal'});
  svg.append('line').attr('x1',838).attr('x2',1160).attr('y1',1645).attr('y2',1645).attr('stroke','#000').attr('stroke-width',1.6);
  svg.append('path').attr('d','M1170,1645 L1148,1638 L1153,1645 L1148,1652 Z').attr('fill','#000');
  rich(962,1787,['P/P',['0','sub'],[' (%)','']],{size:34,anchor:'middle'});
  label('(f)',624,1221);
}
</script>
</body></html>
